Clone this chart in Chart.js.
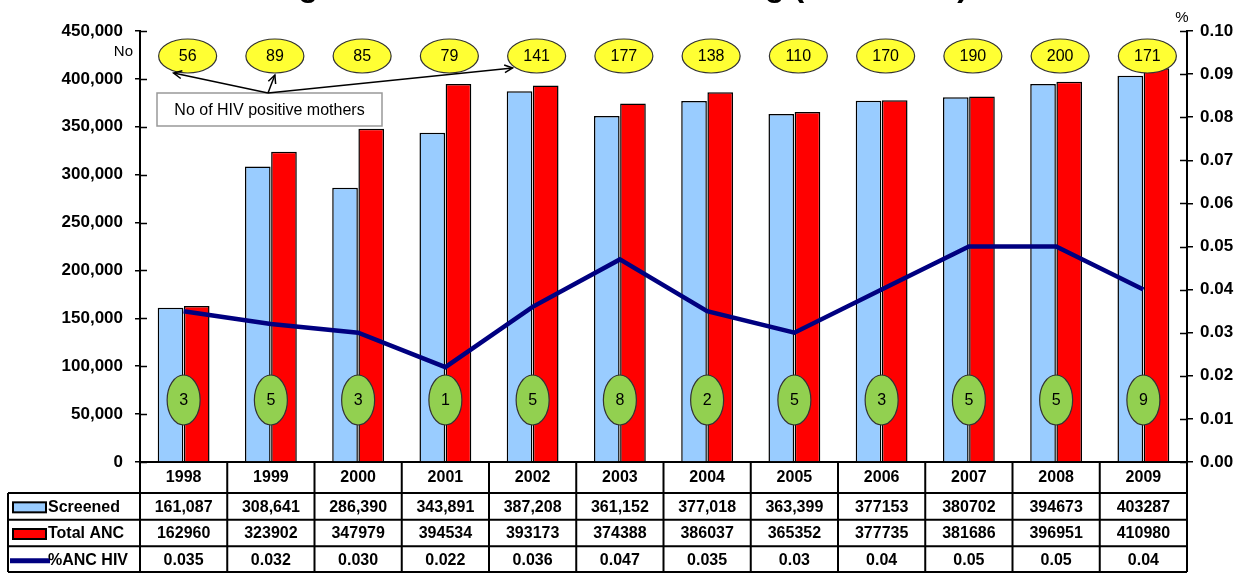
<!DOCTYPE html>
<html lang="en">
<head>
<meta charset="UTF-8">
<title>Antenatal HIV Screening (1998-2009)</title>
<script src="https://cdn.jsdelivr.net/npm/chart.js"></script>
<style>
  body { margin: 0; background: #fff; }
  #wrap { position: relative; width: 1238px; height: 573px; overflow: hidden; }
  #title {
    position: absolute; left: 0; top: -31px; width: 1238px; text-align: center;
    font: bold 32px/32px "Liberation Sans", Arial, sans-serif; color: #000;
  }
</style>
</head>
<body>
<div id="wrap">
  <canvas id="chart" width="1238" height="573"></canvas>
  <div id="title">Figure 1: Antenatal HIV Screening (1998-2009)</div>
</div>
<script>
const years = ['1998', '1999', '2000', '2001', '2002', '2003', '2004', '2005', '2006', '2007', '2008', '2009'];
const screened = [161087, 308641, 286390, 343891, 387208, 361152, 377018, 363399, 377153, 380702, 394673, 403287];
const totalAnc = [162960, 323902, 347979, 394534, 393173, 374388, 386037, 365352, 377735, 381686, 396951, 410980];
const pctAncHiv = [0.035, 0.032, 0.030, 0.022, 0.036, 0.047, 0.035, 0.03, 0.04, 0.05, 0.05, 0.04];
const hivPositiveMothers = [56, 89, 85, 79, 141, 177, 138, 110, 170, 190, 200, 171];
const lowerCounts = [3, 5, 3, 1, 5, 8, 2, 5, 3, 5, 5, 9];

// text as printed in the data table under the chart
const screenedText = ['161,087', '308,641', '286,390', '343,891', '387,208', '361,152', '377,018', '363,399', '377153', '380702', '394673', '403287'];
const totalAncText = ['162960', '323902', '347979', '394534', '393173', '374388', '386037', '365352', '377735', '381686', '396951', '410980'];
const pctText = ['0.035', '0.032', '0.030', '0.022', '0.036', '0.047', '0.035', '0.03', '0.04', '0.05', '0.05', '0.04'];

const FAMILY = '"Liberation Sans", Arial, sans-serif';
const font = (size, bold) => (bold ? 'bold ' : '') + size + 'px ' + FAMILY;

function ellipse(ctx, cx, cy, rx, ry, fill, text) {
  ctx.beginPath();
  ctx.ellipse(cx, cy, rx, ry, 0, 0, Math.PI * 2);
  ctx.fillStyle = fill;
  ctx.fill();
  ctx.lineWidth = 1.2;
  ctx.strokeStyle = '#333';
  ctx.stroke();
  ctx.fillStyle = '#000';
  ctx.font = font(16);
  ctx.textAlign = 'center';
  ctx.textBaseline = 'middle';
  ctx.fillText(text, cx, cy + 1);
}

function arrow(ctx, x0, y0, x1, y1) {
  ctx.beginPath();
  ctx.moveTo(x0, y0);
  ctx.lineTo(x1, y1);
  ctx.stroke();
  const a = Math.atan2(y1 - y0, x1 - x0), h = 9;
  ctx.beginPath();
  ctx.moveTo(x1 - h * Math.cos(a - 0.45), y1 - h * Math.sin(a - 0.45));
  ctx.lineTo(x1, y1);
  ctx.lineTo(x1 - h * Math.cos(a + 0.45), y1 - h * Math.sin(a + 0.45));
  ctx.stroke();
}

// ellipses, annotation box and axis captions
const overlay = {
  id: 'overlay',
  afterDatasetsDraw(chart) {
    const { ctx, scales: { x }, chartArea } = chart;
    ctx.save();
    years.forEach((yr, i) => {
      const cx = x.getPixelForValue(i);
      ellipse(ctx, cx + 4, chartArea.top + 25, 29, 17, '#FFFF33', String(hivPositiveMothers[i]));
      ellipse(ctx, cx, chartArea.bottom - 62, 16.5, 25, '#92D050', String(lowerCounts[i]));
    });

    // "No of HIV positive mothers" callout
    const bx = 157, by = 93, bw = 225, bh = 33;
    ctx.fillStyle = '#fff';
    ctx.fillRect(bx, by, bw, bh);
    ctx.lineWidth = 1.5;
    ctx.strokeStyle = '#999';
    ctx.strokeRect(bx, by, bw, bh);
    ctx.fillStyle = '#000';
    ctx.font = font(16);
    ctx.textAlign = 'center';
    ctx.textBaseline = 'middle';
    ctx.fillText('No of HIV positive mothers', bx + bw / 2, by + bh / 2 + 1);

    ctx.strokeStyle = '#000';
    ctx.lineWidth = 1.5;
    const ox = 268, oy = by;
    const top = chartArea.top + 25;
    arrow(ctx, ox, oy, x.getPixelForValue(0) - 10, top + 17);
    arrow(ctx, ox, oy, x.getPixelForValue(1) + 4, top + 19);
    arrow(ctx, ox, oy, x.getPixelForValue(4) - 20, top + 12);

    ctx.font = font(15);
    ctx.textAlign = 'right';
    ctx.fillText('No', 133, 52);
    ctx.textAlign = 'center';
    ctx.fillText('%', chartArea.right - 5, 18);
    ctx.restore();
  }
};

// inner half of the crossing tick marks + the data table
const table = {
  id: 'table',
  afterDraw(chart) {
    const { ctx, scales: { x, y, y1 }, chartArea } = chart;
    ctx.save();
    ctx.strokeStyle = '#000';
    ctx.lineWidth = 1.5;
    ctx.beginPath();
    y.ticks.forEach((t, i) => {
      const py = Math.round(y.getPixelForTick(i)) + 0.5;
      ctx.moveTo(chartArea.left, py);
      ctx.lineTo(chartArea.left + 7, py);
    });
    y1.ticks.forEach((t, i) => {
      const py = Math.round(y1.getPixelForTick(i)) + 0.5;
      ctx.moveTo(chartArea.right, py);
      ctx.lineTo(chartArea.right - 7, py);
    });
    ctx.stroke();

    const half = (x.getPixelForValue(1) - x.getPixelForValue(0)) / 2;
    const left = 8, right = x.getPixelForValue(years.length - 1) + half;
    const rowTop = x.bottom, rowH = (chart.height - rowTop) / 3;
    const bottom = chart.height - 1;

    ctx.lineWidth = 2;
    ctx.beginPath();
    for (let i = 0; i <= years.length; i++) {
      const px = x.getPixelForValue(i) - half;
      ctx.moveTo(px, chartArea.bottom);
      ctx.lineTo(px, bottom);
    }
    ctx.moveTo(left, rowTop);
    ctx.lineTo(left, bottom);
    for (let r = 0; r <= 3; r++) {
      const py = r === 3 ? bottom : rowTop + r * rowH;
      ctx.moveTo(left, py);
      ctx.lineTo(right, py);
    }
    ctx.stroke();

    const rows = [
      { name: 'Screened', text: screenedText, swatch: '#99CCFF' },
      { name: 'Total ANC', text: totalAncText, swatch: '#FF0000' },
      { name: '%ANC HIV', text: pctText, line: '#000080' }
    ];
    rows.forEach((row, r) => {
      const cy = rowTop + r * rowH + rowH / 2 + 1;
      if (row.swatch) {
        ctx.fillStyle = row.swatch;
        ctx.fillRect(13, cy - 5, 33, 10);
        ctx.lineWidth = 2;
        ctx.strokeRect(13, cy - 5, 33, 10);
      } else {
        ctx.strokeStyle = row.line;
        ctx.lineWidth = 5;
        ctx.beginPath();
        ctx.moveTo(10, cy);
        ctx.lineTo(50, cy);
        ctx.stroke();
        ctx.strokeStyle = '#000';
      }
      ctx.fillStyle = '#000';
      ctx.font = font(16, true);
      ctx.textBaseline = 'middle';
      ctx.textAlign = 'left';
      ctx.fillText(row.name, 48, cy);
      ctx.textAlign = 'center';
      row.text.forEach((t, i) => ctx.fillText(t, x.getPixelForValue(i), cy));
    });
    ctx.restore();
  }
};

new Chart(document.getElementById('chart'), {
  type: 'bar',
  data: {
    labels: years,
    datasets: [
      {
        type: 'line',
        label: '%ANC HIV',
        data: pctAncHiv,
        yAxisID: 'y1',
        borderColor: '#000080',
        borderWidth: 4.5,
        pointRadius: 0,
        tension: 0,
        order: 0
      },
      {
        label: 'Screened',
        data: screened,
        yAxisID: 'y',
        backgroundColor: '#99CCFF',
        borderColor: '#000',
        borderWidth: 1.5,
        categoryPercentage: 0.6,
        barPercentage: 0.98,
        order: 1
      },
      {
        label: 'Total ANC',
        data: totalAnc,
        yAxisID: 'y',
        backgroundColor: '#FF0000',
        borderColor: '#000',
        borderWidth: 1.5,
        categoryPercentage: 0.6,
        barPercentage: 0.98,
        order: 2
      }
    ]
  },
  options: {
    responsive: false,
    animation: false,
    devicePixelRatio: 1,
    layout: { padding: { top: 31, bottom: 80, left: 0, right: 0 } },
    plugins: { legend: { display: false }, tooltip: { enabled: false } },
    scales: {
      x: {
        offset: true,
        grid: { display: true, drawOnChartArea: false, drawTicks: false },
        border: { display: true, color: '#000', width: 2 },
        ticks: { color: '#000', font: { family: FAMILY, size: 16, weight: 'bold' }, padding: 6 },
        afterFit(s) { s.height = 31; }
      },
      y: {
        position: 'left',
        min: 0,
        max: 450000,
        grid: { drawOnChartArea: false, color: '#000', lineWidth: 1.5, tickLength: 5 },
        border: { color: '#000', width: 2 },
        ticks: {
          stepSize: 50000,
          color: '#000',
          padding: 12,
          font: { family: FAMILY, size: 17, weight: 'bold' },
          callback: v => v.toLocaleString('en-US')
        },
        afterFit(s) { s.width = 140; }
      },
      y1: {
        position: 'right',
        min: 0,
        max: 0.1,
        grid: { drawOnChartArea: false, color: '#000', lineWidth: 1.5, tickLength: 6 },
        border: { color: '#000', width: 2 },
        ticks: {
          stepSize: 0.01,
          color: '#000',
          padding: 7,
          font: { family: FAMILY, size: 17, weight: 'bold' },
          callback: v => v.toFixed(2)
        },
        afterFit(s) { s.width = 51; }
      }
    }
  },
  plugins: [overlay, table]
});
</script>
</body>
</html>
